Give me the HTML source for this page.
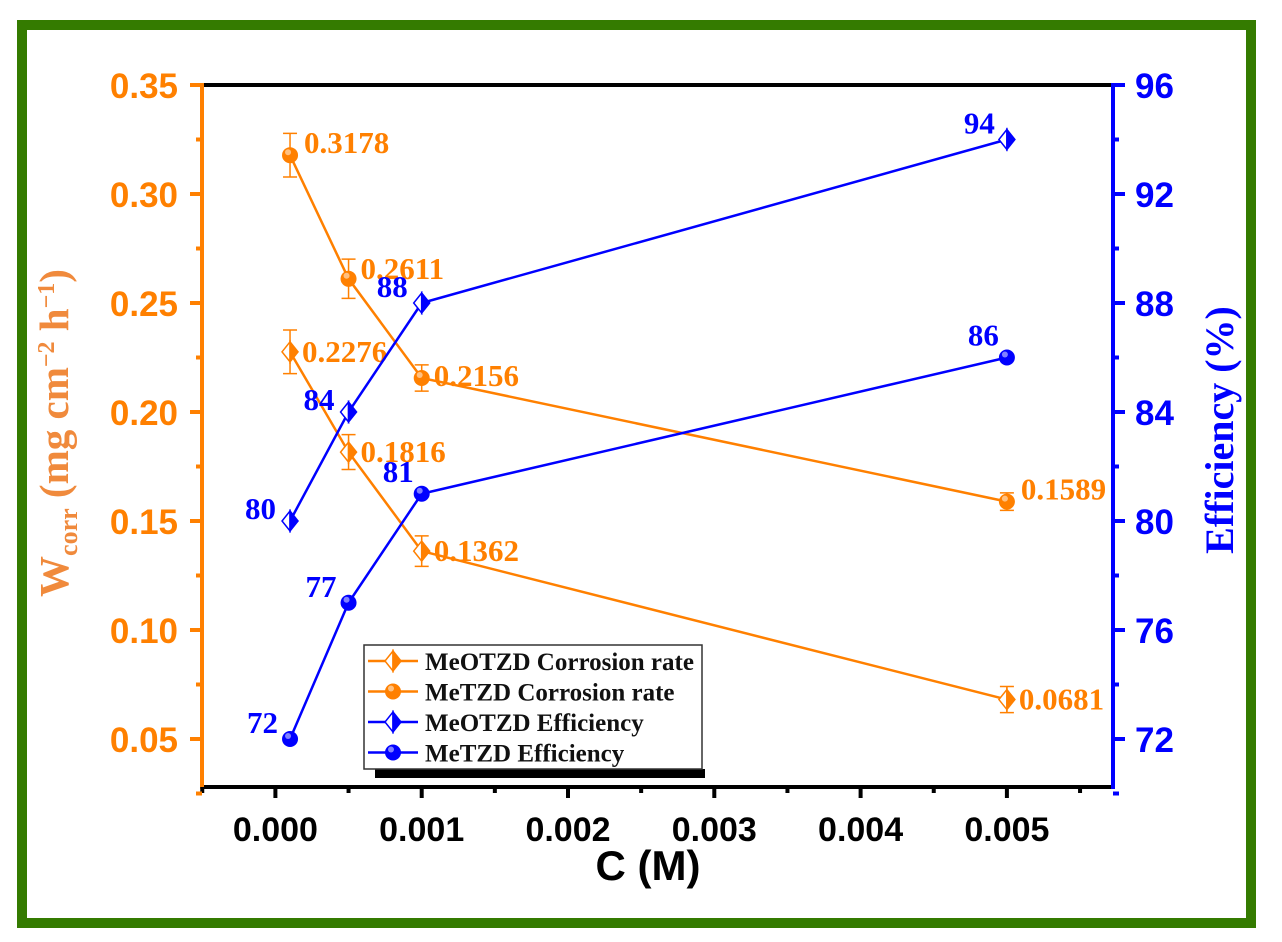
<!DOCTYPE html>
<html><head><meta charset="utf-8"><style>
html,body{margin:0;padding:0;background:#fff}
svg{display:block}
.s{font-family:"Liberation Serif",serif;font-weight:bold}
.a{font-family:"Liberation Sans",sans-serif;font-weight:bold}
</style></head><body>
<svg id="c" width="1282" height="942" viewBox="0 0 1282 942" xmlns="http://www.w3.org/2000/svg">
<rect x="22" y="25" width="1229" height="898" fill="none" stroke="#347b00" stroke-width="10"/>
<g id="g"></g>
</svg>
<script>
const xs=[0.0001,0.0005,0.001,0.005];
const meotzdRate=[0.2276,0.1816,0.1362,0.0681];
const meotzdRateErr=[0.010,0.008,0.007,0.006];
const metzdRate=[0.3178,0.2611,0.2156,0.1589];
const metzdRateErr=[0.010,0.009,0.006,0.004];
const meotzdEff=[80,84,88,94];
const metzdEff=[72,77,81,86];
const xTicks=[0,0.001,0.002,0.003,0.004,0.005];
const xTickLabels=["0.000","0.001","0.002","0.003","0.004","0.005"];
const yLTicks=[0.05,0.10,0.15,0.20,0.25,0.30,0.35];
const yLTickLabels=["0.05","0.10","0.15","0.20","0.25","0.30","0.35"];
const yRTicks=[72,76,80,84,88,92,96];

const L=202,R=1113,T=85,B=787;
const X=v=>275.4+v*146300;
const YL=v=>85+(0.35-v)/0.05*109;
const YR=v=>85+(96-v)/4*109;
const OR="#ff8000",BL="#0000ff";
const g=document.getElementById('g');
const NS="http://www.w3.org/2000/svg";
function mk(t,at,par){const e=document.createElementNS(NS,t);for(const k in at)e.setAttribute(k,at[k]);(par||g).appendChild(e);return e;}
function txt(s,at,par){const e=mk('text',at,par);e.textContent=s;return e;}

let e;
e=mk('line',{x1:L,y1:T,x2:R,y2:T,stroke:'#000','stroke-width':4});

e=mk('line',{x1:L-2,y1:B,x2:R,y2:B,stroke:'#000','stroke-width':4});

e=mk('line',{x1:L,y1:T-2,x2:L,y2:B+2,stroke:OR,'stroke-width':4});

e=mk('line',{x1:R,y1:T-2,x2:R,y2:B+2,stroke:BL,'stroke-width':4});


xTicks.forEach((v,i)=>{
  mk('line',{x1:X(v),y1:B,x2:X(v),y2:B+11,stroke:'#000','stroke-width':4});
  mk('line',{x1:X(v-0.0005),y1:B,x2:X(v-0.0005),y2:B+6,stroke:'#000','stroke-width':4});
  e=txt(xTickLabels[i],{x:X(v),y:B+54,'text-anchor':'middle','font-size':34,fill:'#000',class:'a'});
  
});
mk('line',{x1:X(0.0055),y1:B,x2:X(0.0055),y2:B+6,stroke:'#000','stroke-width':4});
yLTicks.forEach((v,i)=>{
  mk('line',{x1:L-12,y1:YL(v),x2:L,y2:YL(v),stroke:OR,'stroke-width':4});
  if(v<0.34)mk('line',{x1:L-6,y1:YL(v+0.025),x2:L,y2:YL(v+0.025),stroke:OR,'stroke-width':4});
  e=txt(yLTickLabels[i],{x:L-24,y:YL(v)+13,'text-anchor':'end','font-size':35,fill:OR,class:'a'});
  
});
mk('line',{x1:L-6,y1:YL(0.025),x2:L,y2:YL(0.025),stroke:OR,'stroke-width':4});
yRTicks.forEach(v=>{
  mk('line',{x1:R,y1:YR(v),x2:R+12,y2:YR(v),stroke:BL,'stroke-width':4});
  if(v<95)mk('line',{x1:R,y1:YR(v+2),x2:R+6,y2:YR(v+2),stroke:BL,'stroke-width':4});
  e=txt(String(v),{x:R+22,y:YR(v)+13,'text-anchor':'start','font-size':35,fill:BL,class:'a'});
  
});
mk('line',{x1:R,y1:YR(70),x2:R+6,y2:YR(70),stroke:BL,'stroke-width':4});

e=txt('C (M)',{x:648,y:880,'text-anchor':'middle','font-size':42,fill:'#000',class:'a'});

e=mk('text',{transform:'translate(68,433) rotate(-90)','text-anchor':'middle','font-size':41,fill:'#f08a3c',class:'s'});
e.innerHTML='W<tspan font-size="26" dy="9">corr</tspan><tspan dy="-9"> (mg cm</tspan><tspan font-size="24" dy="-14">−2</tspan><tspan dy="14"> h</tspan><tspan font-size="24" dy="-14">−1</tspan><tspan dy="14">)</tspan>';

e=txt('Efficiency (%)',{transform:'translate(1233,430) rotate(-90)','text-anchor':'middle','font-size':40,fill:BL,class:'s'});


function diamond(x,y,c,par){
  const r=10;
  mk('path',{d:`M${x} ${y-r}L${x-r*0.8} ${y}L${x} ${y+r}Z`,fill:'#fff',stroke:c,'stroke-width':1.5},par);
  mk('path',{d:`M${x} ${y-r}L${x+r*0.8} ${y}L${x} ${y+r}Z`,fill:c,stroke:c,'stroke-width':1.5},par);
}
function ball(x,y,c,par){
  mk('circle',{cx:x,cy:y,r:8,fill:c},par);
  mk('circle',{cx:x-2,cy:y-3,r:3,fill:'#fff',opacity:0.5},par);
}
function series(name,vals,Y,c,marker,err,labels,offs){
  const sg=mk('g',{});
  
  
  mk('polyline',{points:xs.map((x,i)=>X(x)+','+Y(vals[i])).join(' '),fill:'none',stroke:c,'stroke-width':2.5},sg);
  xs.forEach((x,i)=>{
    if(err){const y1=Y(vals[i]+err[i]),y2=Y(vals[i]-err[i]),px=X(x);
      mk('path',{d:`M${px} ${y1}V${y2}M${px-7} ${y1}H${px+7}M${px-7} ${y2}H${px+7}`,stroke:c,'stroke-width':1.5,fill:'none'},sg);}
    marker(X(x),Y(vals[i]),c,sg);
    const o=offs[i];
    const t=txt(labels(vals[i]),{x:X(x)+o[0],y:Y(vals[i])+o[1],'text-anchor':o[2],'font-size':31,fill:c,class:'s'},sg);
    
    
  });
}
series('meotzd-corrosion-rate',meotzdRate,YL,OR,diamond,meotzdRateErr,v=>v.toFixed(4),[[12,10,'start'],[12,10,'start'],[12,10,'start'],[12,10,'start']]);
series('metzd-corrosion-rate',metzdRate,YL,OR,ball,metzdRateErr,v=>v.toFixed(4),[[14,-2,'start'],[12,0,'start'],[12,8,'start'],[14,-2,'start']]);
series('meotzd-efficiency',meotzdEff,YR,BL,diamond,null,v=>String(v),[[-14,-2,'end'],[-14,-2,'end'],[-14,-6,'end'],[-12,-6,'end']]);
series('metzd-efficiency',metzdEff,YR,BL,ball,null,v=>String(v),[[-12,-6,'end'],[-12,-6,'end'],[-8,-12,'end'],[-8,-12,'end']]);

const lg=mk('g',{});


mk('rect',{x:375,y:769,width:330,height:9,fill:'#000'},lg);
mk('rect',{x:364,y:645,width:338,height:124,fill:'#fff',stroke:'#333','stroke-width':1.5},lg);
const items=[['MeOTZD Corrosion rate',OR,diamond],['MeTZD Corrosion rate',OR,ball],['MeOTZD Efficiency',BL,diamond],['MeTZD Efficiency',BL,ball]];
items.forEach((it,i)=>{
  const y=661+i*30.5;
  const ig=mk('g',{},lg);
  
  
  mk('line',{x1:368,y1:y,x2:418,y2:y,stroke:it[1],'stroke-width':2.5},ig);
  it[2](393,y,it[1],ig);
  txt(it[0],{x:425,y:y+9,'font-size':25,fill:'#111',class:'s'},ig);
});
</script>
</body></html>
